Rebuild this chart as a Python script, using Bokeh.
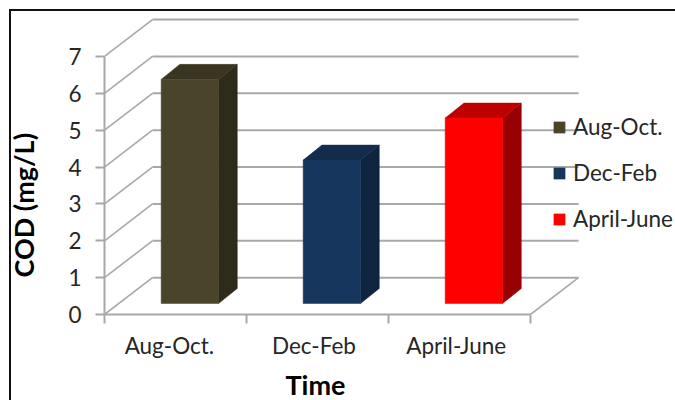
from bokeh.embed import file_html
from bokeh.resources import INLINE
from bokeh.models import (FixedTicker, Legend, LegendItem, Range1d, Title)
from bokeh.plotting import figure

# Chart data
categories = ["Aug-Oct.", "Dec-Feb", "April-June"]
cod_values = [6.08, 3.89, 5.03]
y_ticks = [0, 1, 2, 3, 4, 5, 6, 7]
x_title = "Time"
y_title = "COD (mg/L)"

# Colours per series: front, top and side faces
front_colors = ["#4a452a", "#17365d", "#ff0000"]
top_colors = ["#3a3521", "#132c4c", "#bf0000"]
side_colors = ["#2e2b1a", "#0f243e", "#990000"]

GRID = "#a8a8a8"
FONT = "Lato"
TEXT = "#262626"

# Oblique projection, in data units: how far the back wall is shifted
WALL_DX, WALL_DY = 0.338, 1.0
# Where the bars' front faces stand on the floor, and the size of each bar
BAR_FRONT_DX, BAR_FRONT_DY = 0.101, 0.298
BAR_WIDTH = 0.404
BAR_DX, BAR_DY = 0.132, 0.407
# Category labels sit slightly left of the centre of their slots
LABEL_SHIFT = [-0.043, -0.025, -0.023]

p = figure(
    width=675, height=400, output_backend="svg", toolbar_location=None,
    x_range=Range1d(0, 4.021), y_range=Range1d(0, 8.165),
    min_border_left=104, min_border_bottom=86, min_border_top=13,
    min_border_right=0, outline_line_color=None,
    background_fill_color=None, border_fill_color=None,
)
# Black left and top rules of the chart, painted behind the transparent canvas
p.styles = {
    "background-image": "linear-gradient(#111111,#111111), linear-gradient(#111111,#111111)",
    "background-size": "2px 100%, 100% 2px",
    "background-position": "9px 9px, 9px 9px",
    "background-repeat": "no-repeat",
}
p.grid.visible = False

# Walls and floor of the 3D box
n = len(categories)
p.segment([0] * len(y_ticks), y_ticks,
          [WALL_DX] * len(y_ticks), [v + WALL_DY for v in y_ticks],
          line_color=GRID, line_width=1.6)
p.segment([WALL_DX] * len(y_ticks), [v + WALL_DY for v in y_ticks],
          [n + WALL_DX] * len(y_ticks), [v + WALL_DY for v in y_ticks],
          line_color=GRID, line_width=2)
p.segment([n], [0], [n + WALL_DX], [WALL_DY], line_color=GRID, line_width=1.6)

# Bars: side and top faces are parallelograms behind the front face
front_renderers = []
for i, v in enumerate(cod_values):
    left = i + 0.5 + BAR_FRONT_DX - BAR_WIDTH / 2
    right = left + BAR_WIDTH
    base = BAR_FRONT_DY
    top = base + v
    p.patch([right, right + BAR_DX, right + BAR_DX, right],
            [base, base + BAR_DY, top + BAR_DY, top],
            fill_color=side_colors[i], line_color=side_colors[i], line_width=0.5)
    p.patch([left, right, right + BAR_DX, left + BAR_DX],
            [top, top, top + BAR_DY, top + BAR_DY],
            fill_color=top_colors[i], line_color=top_colors[i], line_width=0.5)
    front_renderers.append(
        p.quad(left=left, right=right, bottom=base, top=top,
               fill_color=front_colors[i], line_color=front_colors[i], line_width=0.5))

# Value axis
ya = p.yaxis[0]
ya.ticker = FixedTicker(ticks=y_ticks)
ya.bounds = (0, 7)
ya.axis_line_color = GRID
ya.axis_line_width = 2
ya.major_tick_line_color = GRID
ya.major_tick_line_width = 2
ya.major_tick_in = 0
ya.major_tick_out = 9
ya.minor_tick_line_color = None
ya.major_label_standoff = 14
ya.major_label_text_font = FONT
ya.major_label_text_font_size = "22.5px"
ya.major_label_text_color = TEXT

# Category axis: ticks bound the slots, labels sit inside them
xa = p.xaxis[0]
label_pos = [i + 0.5 + s for i, s in enumerate(LABEL_SHIFT)]
xa.ticker = FixedTicker(ticks=label_pos, minor_ticks=list(range(n + 1)))
xa.major_label_overrides = dict(zip(label_pos, categories))
xa.bounds = (0, n)
xa.axis_line_color = GRID
xa.axis_line_width = 2
xa.major_tick_line_color = None
xa.major_tick_out = 0
xa.major_tick_in = 0
xa.minor_tick_line_color = GRID
xa.minor_tick_line_width = 2
xa.minor_tick_out = 9
xa.minor_tick_in = 0
xa.major_label_standoff = 8
xa.major_label_text_font = FONT
xa.major_label_text_font_size = "22.5px"
xa.major_label_text_color = TEXT


def axis_title(text, offset, standoff):
    return Title(text=text, align="left", offset=offset, standoff=standoff,
                 text_font=FONT, text_font_size="27px", text_font_style="bold",
                 text_color="black")


# An almost empty title widens the left panel so the axis title clears the tick labels
p.add_layout(Title(text=" ", text_font_size="1px", standoff=29), "left")
p.add_layout(axis_title(y_title, 37, -12), "left")
p.add_layout(axis_title(x_title, 181, -78), "below")

# Legend
legend = Legend(
    items=[LegendItem(label=c, renderers=[r]) for c, r in zip(categories, front_renderers)],
    location=(448, 82), orientation="vertical",
    glyph_width=14, glyph_height=14, label_height=20, label_standoff=7, spacing=19,
    padding=0, margin=0, border_line_color=None, background_fill_alpha=0,
    label_text_font=FONT, label_text_font_size="22.5px", label_text_color=TEXT,
)
p.add_layout(legend)

open("out.html", "w").write(file_html(p, INLINE))
